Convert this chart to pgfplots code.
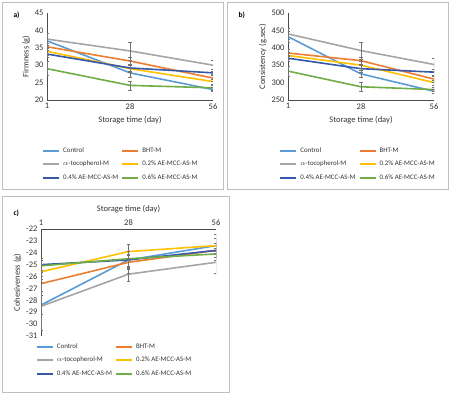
\documentclass[border=0pt]{standalone}
\usepackage{pgfplots}
\pgfplotsset{compat=1.18}
\usepackage{fontspec}
\setmainfont{Carlito}
\definecolor{cCtrl}{HTML}{5B9BD5}
\definecolor{cBHT}{HTML}{ED7D31}
\definecolor{cToc}{HTML}{A5A5A5}
\definecolor{cTwo}{HTML}{FFC000}
\definecolor{cFour}{HTML}{3558A8}
\definecolor{cSix}{HTML}{70AD47}
\pgfplotsset{
  panel/.style={
    scale only axis,
    /pgf/number format/assume math mode=true,
    axis line style={black!70, line width=0.6pt},
    xmin=0, xmax=2,
    xtick={0,1,2}, xticklabels={1,28,56},
    major tick length=0pt,
    tick label style={font=\fontsize{8.5}{9}\selectfont, text=black!80},
    label style={font=\fontsize{8.5}{9}\selectfont, text=black!80},
    legend columns=2,
    legend cell align=left,
    legend image code/.code={\draw[line width=2pt] (0pt,0pt) -- (16pt,0pt);},
    legend style={draw=none, fill=none, font=\fontsize{6.9}{7}\selectfont, text=black!80,
      inner sep=0pt, row sep=3.2pt,
      /tikz/every odd column/.append style={column sep=1pt},
      /tikz/every even column/.append style={column sep=1pt}},
  },
  ln/.style={line width=1.6pt, no markers},
  eb/.style={forget plot, draw=none, no markers,
      error bars/y dir=both, error bars/y explicit,
      error bars/error bar style={black!55, line width=0.5pt},
      error bars/error mark options={black!55, line width=0.5pt, rotate=90, mark size=1.6pt}},
}
\begin{document}
\begin{tikzpicture}
\useasboundingbox (0pt,0pt) rectangle (450pt,395pt);
% panel frames
\draw[black!25, line width=0.5pt] (2pt,206pt) rectangle (223pt,393pt);
\draw[black!25, line width=0.5pt] (227pt,206pt) rectangle (448pt,393pt);
\draw[black!25, line width=0.5pt] (2pt,3pt) rectangle (229pt,199pt);
\node[font=\bfseries\fontsize{7.5}{8}\selectfont, anchor=west] at (10pt,380pt) {a)};
\node[font=\bfseries\fontsize{7.5}{8}\selectfont, anchor=west] at (235pt,380pt) {b)};
\node[font=\bfseries\fontsize{7.5}{8}\selectfont, anchor=west] at (10pt,182pt) {c)};

% ---------------- panel a
\begin{axis}[panel, at={(47pt,295pt)}, anchor=south west, width=166pt, height=87pt,
  axis lines*=left,
  ymin=20, ymax=45, ytick={20,25,...,45},
  xlabel={Storage time (day)}, ylabel={Firmness (g)},
  ylabel style={yshift=-2pt},
  legend style={at={(-0.03,-0.52)}, anchor=north west}]
\addplot[ln, cCtrl] coordinates {(0,37.0) (1,27.8) (2,23.0)};
\addlegendentry{Control}
\addplot[ln, cBHT] coordinates {(0,35.3) (1,31.2) (2,26.3)};
\addlegendentry{BHT-M}
\addplot[ln, cToc] coordinates {(0,37.5) (1,34.1) (2,30.0)};
\addlegendentry{$\alpha$-tocopherol-M}
\addplot[ln, cTwo] coordinates {(0,34.0) (1,29.0) (2,25.3)};
\addlegendentry{0.2\% AE-MCC-AS-M}
\addplot[ln, cFour] coordinates {(0,33.2) (1,29.2) (2,27.8)};
\addlegendentry{0.4\% AE-MCC-AS-M}
\addplot[ln, cSix] coordinates {(0,29.0) (1,24.2) (2,23.5)};
\addlegendentry{0.6\% AE-MCC-AS-M}
\addplot[eb] coordinates {(0,37.0) +- (0,2.2) (1,27.8) +- (0,1.2) (2,23.0) +- (0,0.6)};
\addplot[eb] coordinates {(0,35.3) +- (0,1.0) (1,31.2) +- (0,1.0) (2,26.3) +- (0,1.0)};
\addplot[eb] coordinates {(0,37.5) +- (0,1.8) (1,34.1) +- (0,2.6) (2,30.0) +- (0,1.3)};
\addplot[eb] coordinates {(0,34.0) +- (0,1.2) (1,29.0) +- (0,1.0) (2,25.3) +- (0,0.8)};
\addplot[eb] coordinates {(0,33.2) +- (0,1.0) (1,29.2) +- (0,1.0) (2,27.8) +- (0,0.6)};
\addplot[eb] coordinates {(0,29.0) +- (0,2.0) (1,24.2) +- (0,1.3) (2,23.5) +- (0,0.6)};
\end{axis}

% ---------------- panel b
\begin{axis}[panel, at={(288pt,295pt)}, anchor=south west, width=146pt, height=87pt,
  axis lines*=left,
  ymin=250, ymax=500, ytick={250,300,...,500},
  xlabel={Storage time (day)}, ylabel={Consistency (g.sec)},
  ylabel style={yshift=-2pt},
  legend style={at={(-0.06,-0.52)}, anchor=north west}]
\addplot[ln, cCtrl] coordinates {(0,432) (1,325) (2,275)};
\addlegendentry{Control}
\addplot[ln, cBHT] coordinates {(0,385) (1,363) (2,310)};
\addlegendentry{BHT-M}
\addplot[ln, cToc] coordinates {(0,440) (1,392) (2,352)};
\addlegendentry{$\alpha$-tocopherol-M}
\addplot[ln, cTwo] coordinates {(0,378) (1,350) (2,300)};
\addlegendentry{0.2\% AE-MCC-AS-M}
\addplot[ln, cFour] coordinates {(0,370) (1,340) (2,330)};
\addlegendentry{0.4\% AE-MCC-AS-M}
\addplot[ln, cSix] coordinates {(0,333) (1,288) (2,280)};
\addlegendentry{0.6\% AE-MCC-AS-M}
\addplot[eb] coordinates {(0,432) +- (0,15) (1,325) +- (0,10) (2,275) +- (0,6)};
\addplot[eb] coordinates {(0,385) +- (0,10) (1,363) +- (0,10) (2,310) +- (0,8)};
\addplot[eb] coordinates {(0,440) +- (0,15) (1,392) +- (0,25) (2,352) +- (0,18)};
\addplot[eb] coordinates {(0,378) +- (0,10) (1,350) +- (0,10) (2,300) +- (0,8)};
\addplot[eb] coordinates {(0,370) +- (0,10) (1,340) +- (0,10) (2,330) +- (0,8)};
\addplot[eb] coordinates {(0,333) +- (0,15) (1,288) +- (0,14) (2,280) +- (0,6)};
\end{axis}

% ---------------- panel c
\begin{axis}[panel, at={(41pt,59pt)}, anchor=south west, width=175pt, height=107pt,
  axis x line*=top, axis y line*=left,
  ymin=-31, ymax=-22, ytick={-31,-30,...,-22},
  xlabel={Storage time (day)}, ylabel={Cohesiveness (g)},
  ylabel style={yshift=-2pt},
  legend style={at={(-0.03,-0.05)}, anchor=north west}]
\addplot[ln, cCtrl] coordinates {(0,-28.4) (1,-24.6) (2,-23.4)};
\addlegendentry{Control}
\addplot[ln, cBHT] coordinates {(0,-26.6) (1,-24.8) (2,-23.8)};
\addlegendentry{BHT-M}
\addplot[ln, cToc] coordinates {(0,-28.5) (1,-25.8) (2,-24.8)};
\addlegendentry{$\alpha$-tocopherol-M}
\addplot[ln, cTwo] coordinates {(0,-25.6) (1,-23.9) (2,-23.4)};
\addlegendentry{0.2\% AE-MCC-AS-M}
\addplot[ln, cFour] coordinates {(0,-25.0) (1,-24.6) (2,-23.8)};
\addlegendentry{0.4\% AE-MCC-AS-M}
\addplot[ln, cSix] coordinates {(0,-25.1) (1,-24.5) (2,-24.1)};
\addlegendentry{0.6\% AE-MCC-AS-M}
\addplot[eb] coordinates {(0,-28.4) +- (0,0.8) (1,-24.6) +- (0,0.7) (2,-23.4) +- (0,0.6)};
\addplot[eb] coordinates {(0,-26.6) +- (0,0.6) (1,-24.8) +- (0,0.6) (2,-23.8) +- (0,0.6)};
\addplot[eb] coordinates {(0,-28.5) +- (0,2.0) (1,-25.8) +- (0,0.6) (2,-24.8) +- (0,0.9)};
\addplot[eb] coordinates {(0,-25.6) +- (0,0.6) (1,-23.9) +- (0,0.6) (2,-23.4) +- (0,1.0)};
\addplot[eb] coordinates {(0,-25.0) +- (0,0.5) (1,-24.6) +- (0,0.5) (2,-23.8) +- (0,0.6)};
\addplot[eb] coordinates {(0,-25.1) +- (0,0.5) (1,-24.5) +- (0,1.2) (2,-24.1) +- (0,0.5)};
\end{axis}
\end{tikzpicture}
\end{document}
